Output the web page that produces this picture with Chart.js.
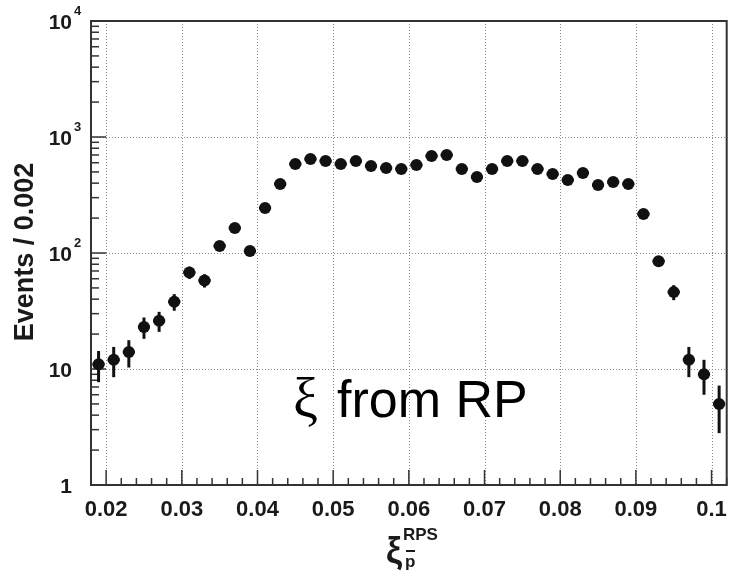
<!DOCTYPE html>
<html>
<head>
<meta charset="utf-8">
<script src="https://cdn.jsdelivr.net/npm/chart.js@4.4.1/dist/chart.umd.min.js"></script>
<style>
  body { margin: 0; background: #fff; }
  #wrap { width: 739px; height: 576px; position: relative; }
</style>
</head>
<body>
<div id="wrap"><canvas id="chart"></canvas></div>
<script>
// bin centres (width 0.002)
const binCenters = [
  0.019, 0.021, 0.023, 0.025, 0.027, 0.029, 0.031, 0.033, 0.035, 0.037,
  0.039, 0.041, 0.043, 0.045, 0.047, 0.049, 0.051, 0.053, 0.055, 0.057,
  0.059, 0.061, 0.063, 0.065, 0.067, 0.069, 0.071, 0.073, 0.075, 0.077,
  0.079, 0.081, 0.083, 0.085, 0.087, 0.089, 0.091, 0.093, 0.095, 0.097,
  0.099, 0.101
];
const events = [
  11, 12, 14, 23, 26, 38, 68, 58, 115, 164,
  104, 244, 394, 585, 646, 620, 585, 620, 562, 540,
  530, 573, 686, 700, 530, 452, 530, 620, 620, 530,
  480, 426, 490, 385, 409, 394, 217, 85, 46, 12,
  9, 5
];
const eventErrors = [
  3.3, 3.5, 3.7, 4.8, 5.1, 6.2, 8.2, 7.6, 10.7, 12.8,
  10.2, 15.6, 19.8, 24, 25, 25, 24, 25, 24, 23,
  23, 24, 26, 26, 23, 21, 23, 25, 25, 23,
  22, 21, 22, 20, 20, 20, 15, 9.2, 6.8, 3.5,
  3, 2.2
];
const xHalfWidth = 0.0008;
const xTicks = [0.02, 0.03, 0.04, 0.05, 0.06, 0.07, 0.08, 0.09, 0.1];
const yTicks = [1, 10, 100, 1000, 10000];
const yTickExp = ["", "", "2", "3", "4"];

const FONT = "'Liberation Sans', Arial, sans-serif";
const INK = "#1a1a1a";

function line(ctx, x1, y1, x2, y2) {
  ctx.beginPath();
  ctx.moveTo(x1, y1);
  ctx.lineTo(x2, y2);
  ctx.stroke();
}

const rootStyle = {
  id: "rootStyle",
  beforeDatasetsDraw(chart) {
    const { ctx, chartArea: a, scales: { x, y } } = chart;
    ctx.save();

    // dotted grid at major ticks
    ctx.strokeStyle = "#8a8a8a";
    ctx.lineWidth = 1;
    ctx.setLineDash([1, 2]);
    xTicks.forEach(v => {
      const px = Math.round(x.getPixelForValue(v)) + 0.5;
      line(ctx, px, a.top, px, a.bottom);
    });
    yTicks.slice(1, -1).forEach(v => {
      const py = Math.round(y.getPixelForValue(v)) + 0.5;
      line(ctx, a.left, py, a.right, py);
    });
    ctx.setLineDash([]);

    // inward tick marks
    ctx.strokeStyle = "#333";
    ctx.lineWidth = 1.5;
    for (let k = 9; k <= 51; k++) {
      const v = k * 0.002;
      const px = x.getPixelForValue(v);
      const major = k % 5 === 0;
      line(ctx, px, a.bottom, px, a.bottom - (major ? 15 : 7));
    }
    for (let d = 1; d < 10000; d *= 10) {
      for (let m = 1; m <= 9; m++) {
        const py = y.getPixelForValue(d * m);
        line(ctx, a.left, py, a.left + (m === 1 ? 15 : 8), py);
      }
    }

    // error bars
    ctx.strokeStyle = "#111";
    ctx.lineWidth = 3;
    binCenters.forEach((c, i) => {
      const px = x.getPixelForValue(c);
      const py = y.getPixelForValue(events[i]);
      line(ctx, x.getPixelForValue(c - xHalfWidth), py, x.getPixelForValue(c + xHalfWidth), py);
      line(ctx, px, y.getPixelForValue(events[i] + eventErrors[i]),
        px, y.getPixelForValue(Math.max(events[i] - eventErrors[i], 1)));
    });
    ctx.restore();
  },
  afterDraw(chart) {
    const { ctx, chartArea: a, scales: { y } } = chart;
    ctx.save();

    // frame
    ctx.strokeStyle = "#333";
    ctx.lineWidth = 2;
    ctx.strokeRect(a.left, a.top, a.right - a.left, a.bottom - a.top);

    // y tick labels with exponents
    ctx.fillStyle = INK;
    yTicks.forEach((v, i) => {
      const py = y.getPixelForValue(v);
      const base = yTickExp[i] ? "10" : String(v);
      ctx.font = "bold 21px " + FONT;
      ctx.textAlign = "right";
      ctx.textBaseline = "alphabetic";
      ctx.fillText(base, 72, py + 8);
      if (yTickExp[i]) {
        ctx.font = "bold 13px " + FONT;
        ctx.textAlign = "left";
        ctx.fillText(yTickExp[i], 74, py - 6);
      }
    });

    // y axis title
    ctx.save();
    ctx.translate(33, 252);
    ctx.rotate(-Math.PI / 2);
    ctx.font = "bold 27px " + FONT;
    ctx.textAlign = "center";
    ctx.textBaseline = "alphabetic";
    ctx.fillText("Events / 0.002", 0, 0);
    ctx.restore();

    // x axis title: xi with RPS superscript and p-bar subscript
    ctx.textAlign = "left";
    ctx.font = "bold 36px " + FONT;
    ctx.fillText("ξ", 386, 563);
    ctx.font = "bold 17px " + FONT;
    ctx.fillText("RPS", 403, 540);
    ctx.fillText("p", 405, 567);
    ctx.strokeStyle = INK;
    ctx.lineWidth = 2;
    line(ctx, 406, 551, 415, 551);

    // annotation
    ctx.fillStyle = "#000";
    ctx.font = "56px 'Liberation Serif', serif";
    ctx.fillText("ξ", 293, 417);
    ctx.font = "52px " + FONT;
    ctx.fillText("from RP", 337, 417);
    ctx.restore();
  }
};

new Chart(document.getElementById("chart"), {
  type: "scatter",
  data: {
    datasets: [{
      label: "Events",
      data: binCenters.map((c, i) => ({ x: c, y: events[i] })),
      backgroundColor: "#111",
      borderWidth: 0,
      pointRadius: 6,
      pointHoverRadius: 6
    }]
  },
  options: {
    responsive: true,
    maintainAspectRatio: false,
    animation: false,
    events: [],
    layout: { padding: { top: 21, right: 2, left: 0, bottom: 0 } },
    plugins: { legend: { display: false }, tooltip: { enabled: false } },
    scales: {
      x: {
        type: "linear",
        min: 0.018,
        max: 0.102,
        afterBuildTicks: s => { s.ticks = xTicks.map(v => ({ value: v })); },
        afterFit: s => { s.height = 91; },
        grid: { display: false, drawTicks: false },
        border: { display: false },
        ticks: {
          color: INK,
          padding: 12,
          maxRotation: 0,
          autoSkip: false,
          font: { family: FONT, size: 22, weight: "bold" },
          callback: v => String(+v.toFixed(2))
        }
      },
      y: {
        type: "logarithmic",
        min: 1,
        max: 10000,
        afterBuildTicks: s => { s.ticks = yTicks.map(v => ({ value: v })); },
        afterFit: s => { s.width = 91; },
        grid: { display: false, drawTicks: false },
        border: { display: false },
        ticks: { display: false }
      }
    }
  },
  plugins: [rootStyle]
});
</script>
</body>
</html>
